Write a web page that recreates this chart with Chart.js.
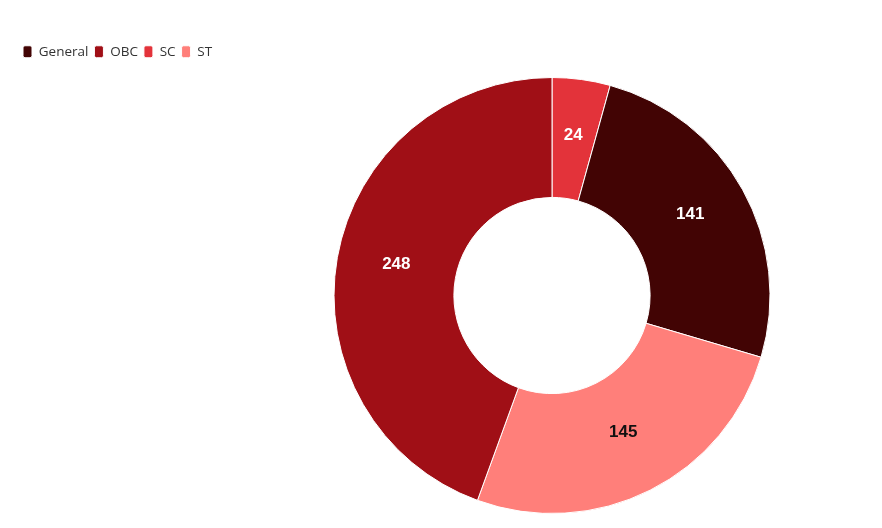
<!DOCTYPE html>
<html>
<head>
<meta charset="utf-8">
<script src="https://cdn.jsdelivr.net/npm/chart.js@4.4.0/dist/chart.umd.min.js"></script>
<style>
  html, body { margin: 0; padding: 0; background: #fff; }
  #wrap { width: 882px; height: 528px; position: relative; }
</style>
</head>
<body>
<div id="wrap"><canvas id="categoryChart"></canvas></div>
<script>
// slices in clockwise order from 12 o'clock
const categories = ["SC", "General", "ST", "OBC"];
const counts = [24, 141, 145, 248];
const sliceColors = ["#e3333a", "#420404", "#ff7f7a", "#a00f16"];
const labelColors = ["#ffffff", "#ffffff", "#111111", "#ffffff"];

// the doughnut sits right of centre, below the legend
const plotArea = {
    id: "plotArea",
    afterLayout(chart) {
        const a = chart.chartArea;
        a.left = 222;
        a.right = 882;
        a.top = 77;
        a.bottom = 514;
        a.width = a.right - a.left;
        a.height = a.bottom - a.top;
    }
};

// draws the value in the middle of each arc
const sliceLabels = {
    id: "sliceLabels",
    afterDatasetsDraw(chart) {
        const ctx = chart.ctx;
        const meta = chart.getDatasetMeta(0);
        ctx.save();
        ctx.font = "bold 17px 'Liberation Sans', Arial, sans-serif";
        ctx.textAlign = "center";
        ctx.textBaseline = "middle";
        meta.data.forEach((arc, i) => {
            const p = arc.tooltipPosition();
            ctx.fillStyle = labelColors[i];
            ctx.fillText(String(counts[i]), p.x, p.y - 4);
        });
        ctx.restore();
    }
};

document.addEventListener("DOMContentLoaded", function () {
    const ctx = document.getElementById("categoryChart").getContext("2d");

    new Chart(ctx, {
        type: "doughnut",
        data: {
            labels: categories,
            datasets: [{
                data: counts,
                backgroundColor: sliceColors,
                borderColor: "#ffffff",
                borderWidth: 1
            }]
        },
        options: {
            responsive: true,
            maintainAspectRatio: false,
            animation: false,
            cutout: "45%",
            layout: {
                padding: { top: 39, left: 17, right: 0, bottom: 14 }
            },
            plugins: {
                tooltip: { enabled: false },
                legend: {
                    position: "top",
                    align: "start",
                    labels: {
                        sort: (a, b) => a.text.localeCompare(b.text),
                        boxWidth: 9,
                        boxHeight: 12,
                        useBorderRadius: true,
                        borderRadius: 2,
                        padding: 6,
                        color: "#333",
                        font: { family: "'Open Sans', sans-serif", size: 13.5 }
                    }
                }
            }
        },
        plugins: [plotArea, sliceLabels]
    });
});
</script>
</body>
</html>
